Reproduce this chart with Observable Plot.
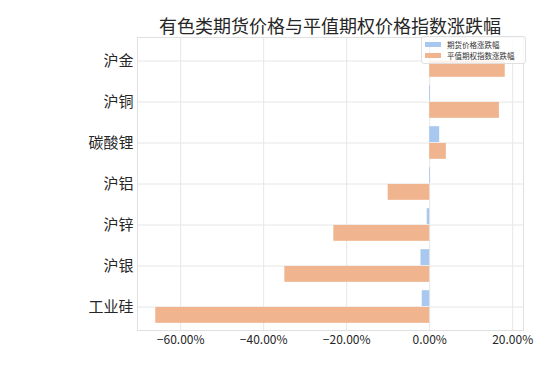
<!DOCTYPE html>
<html>
<head>
<meta charset="utf-8">
<script src="https://cdn.jsdelivr.net/npm/d3@7"></script>
<script src="https://cdn.jsdelivr.net/npm/@observablehq/plot@0.6"></script>
<style>
  html, body { margin: 0; padding: 0; background: #fff; }
  body { width: 550px; height: 367px; overflow: hidden; font-family: "Noto Sans CJK SC", "Noto Sans", sans-serif; }
  #wrap { position: relative; width: 550px; height: 367px; }
  #title { position: absolute; z-index: 2; left: 137px; width: 386px; top: 13px; text-align: center; font-size: 18px; line-height: 24px; color: #262626; white-space: nowrap; }
  #chart { position: absolute; z-index: 1; left: 0; top: 30px; }
  #legend { position: absolute; z-index: 3; left: 421px; top: 36px; width: 105px; height: 28px; background: rgba(255,255,255,0.8); border: 1px solid #e0e0e0; border-radius: 3px; box-sizing: border-box; font-size: 7.5px; line-height: 11px; color: #333; }
  .item { position: absolute; left: 3px; height: 11px; line-height: 11px; display: flex; align-items: center; white-space: nowrap; }
  .sw { width: 16px; height: 5px; margin-right: 6px; }
</style>
</head>
<body>
<div id="wrap">
  <div id="title"></div>
  <div id="chart"></div>
  <div id="legend"></div>
</div>
<script>
const title = "有色类期货价格与平值期权价格指数涨跌幅";
const categories = ["沪金", "沪铜", "碳酸锂", "沪铝", "沪锌", "沪银", "工业硅"];
const seriesNames = ["期货价格涨跌幅", "平值期权指数涨跌幅"];
const futuresChange = [0.3, 0.2, 2.4, 0.2, -0.6, -2.1, -1.8];
const optionIndexChange = [18.2, 16.8, 4.0, -10.0, -23.1, -34.9, -66.0];
const xTicks = [-60, -40, -20, 0, 20];
const colors = ["#a9c8ef", "#f0b48e"];

const rows = categories.map((c, i) => ({cat: c, fut: futuresChange[i], opt: optionIndexChange[i]}));

const W = 550, H = 337, mT = 7, mB = 37, mL = 137, mR = 27;
const band = (H - mT - mB) / categories.length;
const thick = band * 0.4;
const half = band / 2;

const fmt = d => (d < 0 ? "\u2212" : "") + Math.abs(d).toFixed(2) + "%";

const plot = Plot.plot({
  width: W, height: H,
  marginTop: mT, marginBottom: mB, marginLeft: mL, marginRight: mR,
  style: {fontFamily: '"Noto Sans CJK SC", "Noto Sans", sans-serif', background: "transparent", color: "#262626"},
  x: {domain: [-70.4, 22.6], label: null},
  y: {domain: categories, padding: 0, label: null},
  marks: [
    Plot.gridX(xTicks, {stroke: "#e6e6e6", strokeOpacity: 1, strokeWidth: 1}),
    Plot.gridY(categories, {stroke: "#e6e6e6", strokeOpacity: 1, strokeWidth: 1}),
    Plot.frame({stroke: "#e0e0e0"}),
    Plot.barX(rows, {x: "fut", y: "cat", fill: colors[0], insetTop: half - thick, insetBottom: half}),
    Plot.barX(rows, {x: "opt", y: "cat", fill: colors[1], insetTop: half, insetBottom: half - thick}),
    Plot.axisX(xTicks, {tickSize: 0, tickPadding: 5, tickFormat: fmt, fontSize: 12, label: null}),
    Plot.axisY(categories, {tickSize: 0, tickPadding: 4, fontSize: 15, label: null})
  ]
});
document.getElementById("chart").appendChild(plot);
document.getElementById("title").textContent = title;

const leg = document.getElementById("legend");
seriesNames.forEach((n, i) => {
  const it = document.createElement("div");
  it.className = "item";
  it.style.top = (i === 0 ? 2 : 13) + "px";
  const sw = document.createElement("div");
  sw.className = "sw";
  sw.style.background = colors[i];
  const tx = document.createElement("span");
  tx.textContent = n;
  it.appendChild(sw); it.appendChild(tx);
  leg.appendChild(it);
});
</script>
</body>
</html>
